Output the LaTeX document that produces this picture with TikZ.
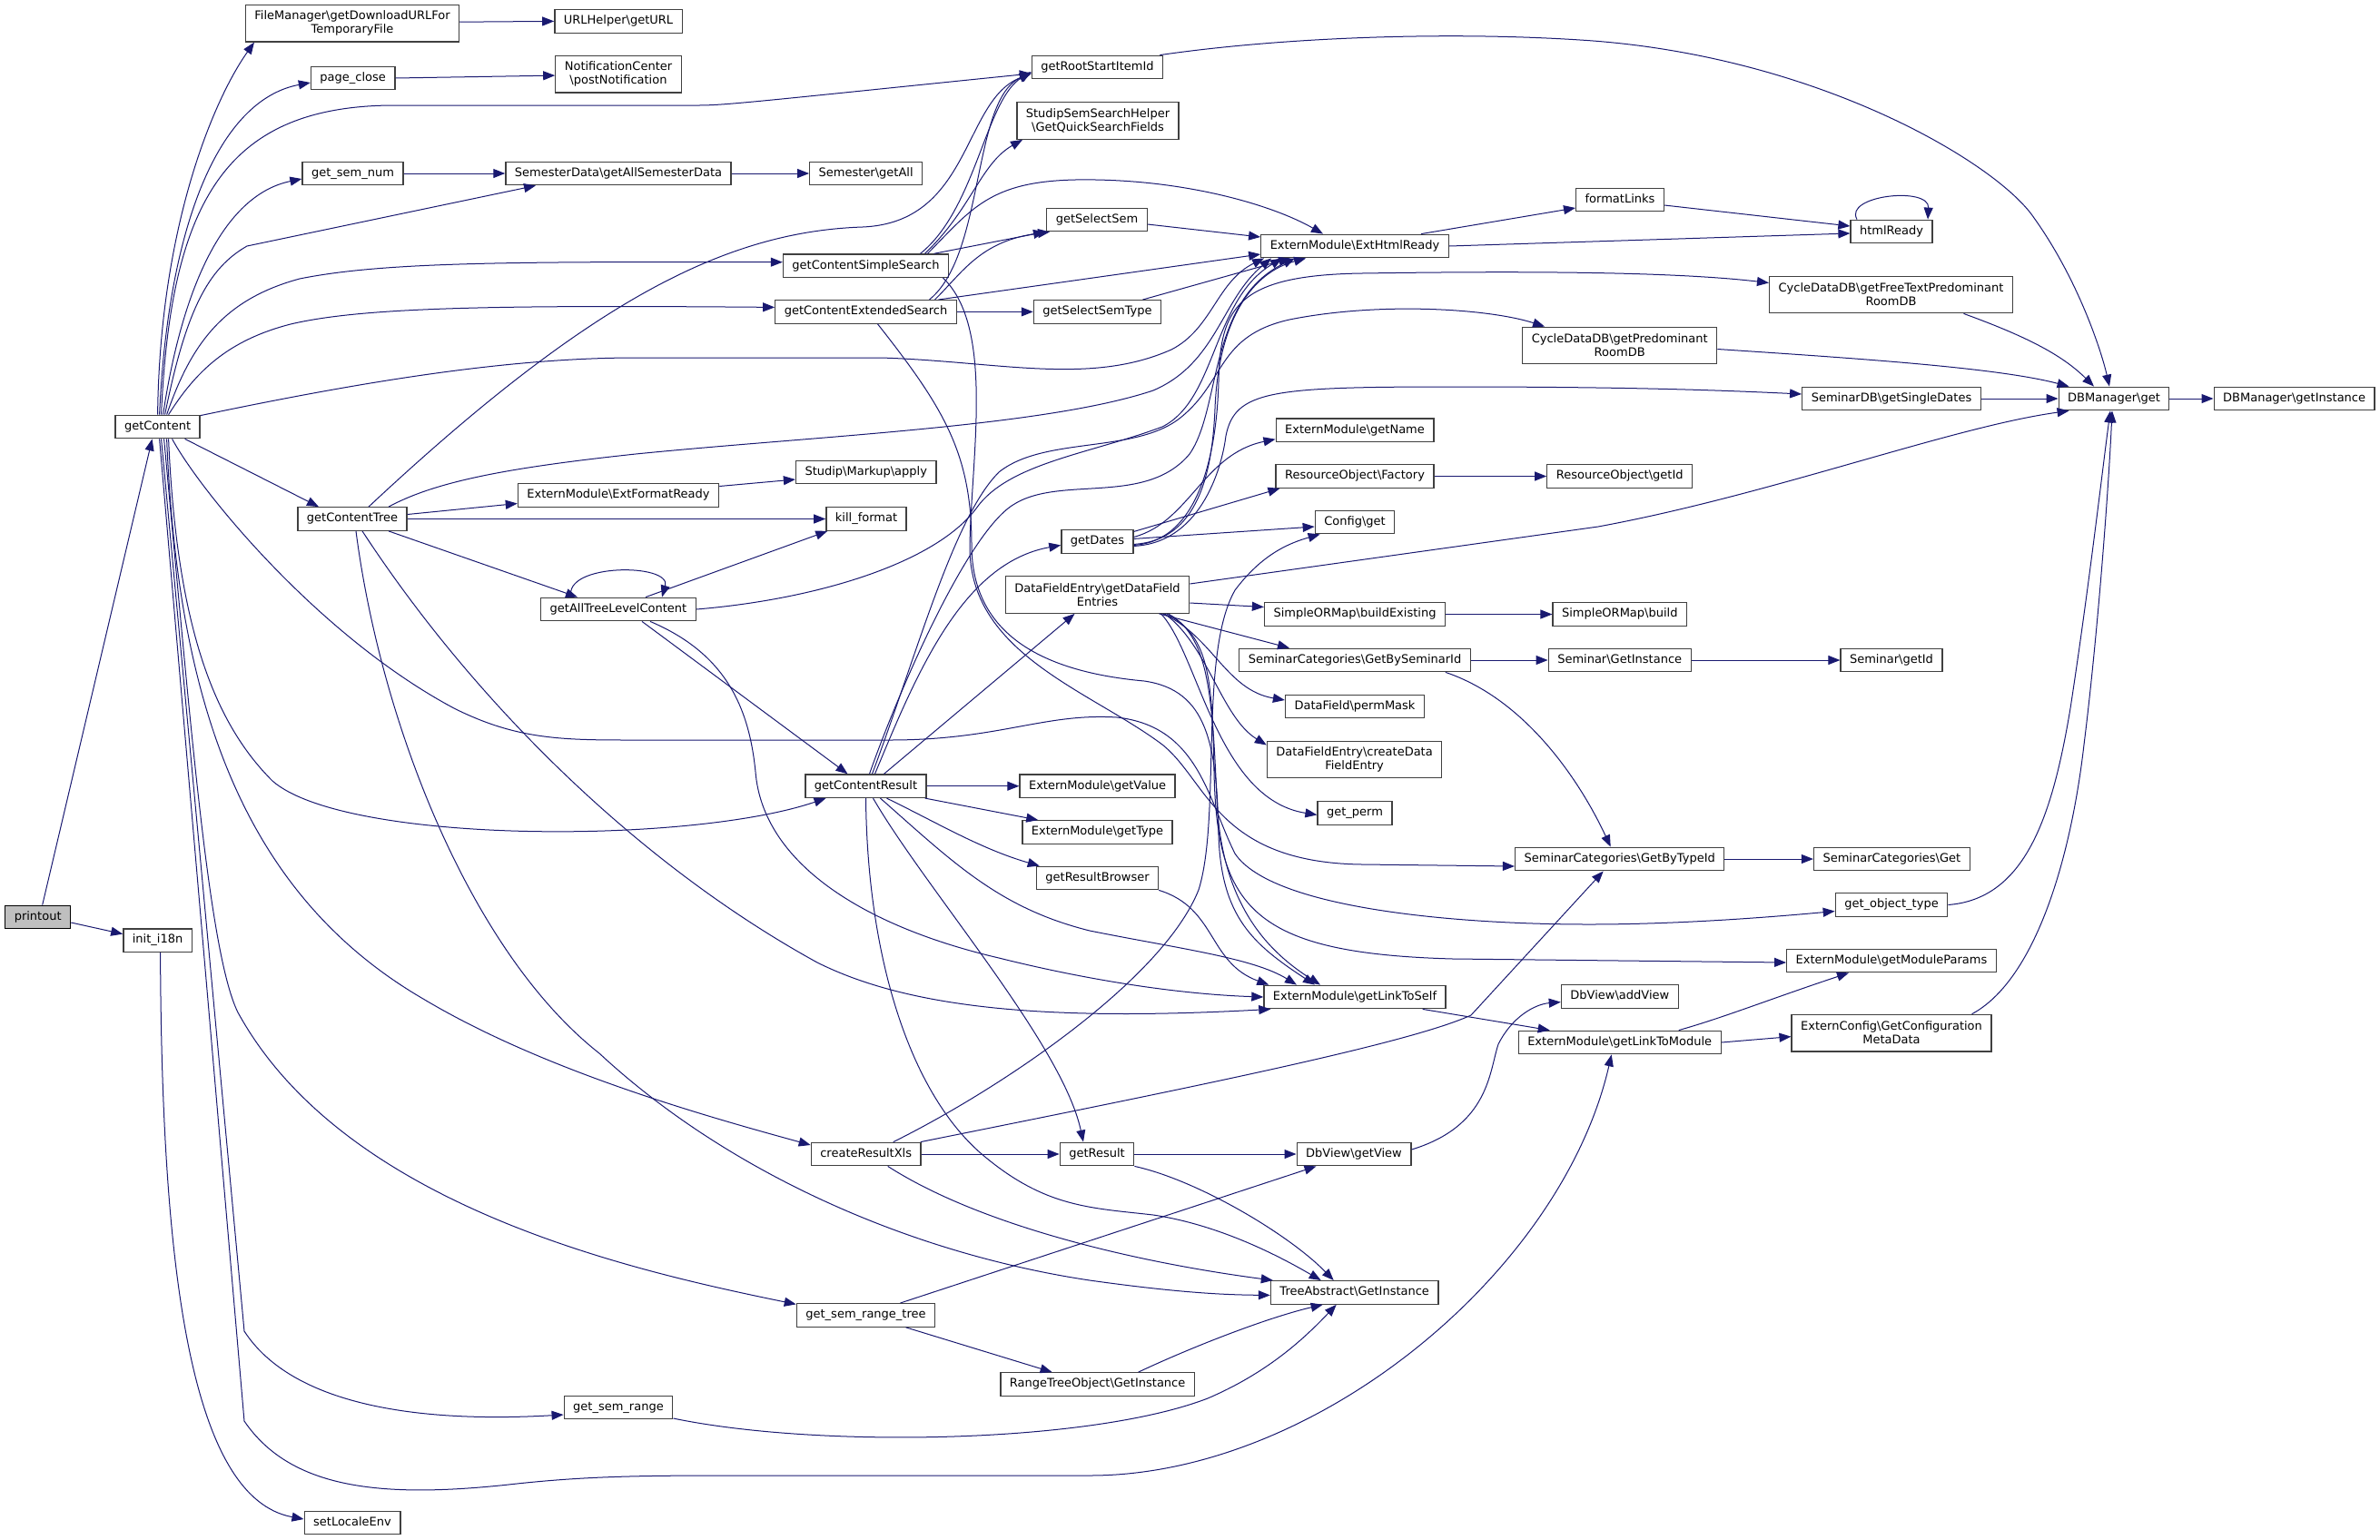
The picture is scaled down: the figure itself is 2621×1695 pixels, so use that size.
\documentclass[tikz,border=0pt]{standalone}
\usepackage{fontspec}
\setmainfont{DejaVu Sans}
\usepackage{tikz}
\usetikzlibrary{arrows.meta}
\definecolor{callblue}{HTML}{191970}
\definecolor{boxgray}{HTML}{404040}
\definecolor{startgray}{HTML}{BFBFBF}
\tikzset{>={Triangle[length=13pt,width=10pt]}}
\tikzset{
	fnbox/.style={draw=boxgray, line width=1.3pt, fill=white, inner xsep=10pt, inner ysep=3pt, minimum height=25.5pt, align=center, font=\fontsize{13}{15}\selectfont, text height=9.6pt, text depth=3pt},
	twoline/.style={minimum height=40.5pt, text height={}, text depth={}},
	startbox/.style={fnbox, fill=startgray, draw=black},
	call/.style={->, draw=callblue, line width=1pt}
}
\newcommand{\ns}{\textbackslash}

\begin{document}
\begin{tikzpicture}[x=1pt,y=-1pt]
			\useasboundingbox (0,0) rectangle (2621,1695);
			\node[startbox] (printout) at (41.7,1010) {printout};
			\node[fnbox] (getContent) at (173.6,470) {getContent};
			\node[fnbox] (initI) at (173.6,1035.6) {init\_i18n};
			\node[fnbox,twoline] (fileMgr) at (388,25.7) {FileManager\ns getDownloadURLFor\\TemporaryFile};
			\node[fnbox] (pageClose) at (388.7,86) {page\_close};
			\node[fnbox] (semNum) at (388.5,191) {get\_sem\_num};
			\node[fnbox] (cTree) at (388,571.5) {getContentTree};
			\node[fnbox] (setLocale) at (388,1677) {setLocaleEnv};
			\node[fnbox] (urlHelper) at (681,23.4) {URLHelper\ns getURL};
			\node[fnbox,twoline] (notify) at (681,81.6) {NotificationCenter\\\ns postNotification};
			\node[fnbox] (semData) at (681,191) {SemesterData\ns getAllSemesterData};
			\node[fnbox] (extFormat) at (681,545.5) {ExternModule\ns ExtFormatReady};
			\node[fnbox] (allTree) at (681,671) {getAllTreeLevelContent};
			\node[fnbox] (semRange) at (681,1550) {get\_sem\_range};
			\node[fnbox] (semGetAll) at (953.7,191) {Semester\ns getAll};
			\node[fnbox] (cSimple) at (953.5,292.7) {getContentSimpleSearch};
			\node[fnbox] (cExtended) at (953.5,343.4) {getContentExtendedSearch};
			\node[fnbox] (markup) at (953.7,520) {Studip\ns Markup\ns apply};
			\node[fnbox] (killFormat) at (954,571.5) {kill\_format};
			\node[fnbox] (cResult) at (953.5,865.7) {getContentResult};
			\node[fnbox] (resultXls) at (953.7,1271) {createResultXls};
			\node[fnbox] (semRangeTree) at (953.5,1448.4) {get\_sem\_range\_tree};
			\node[fnbox] (rootStart) at (1208.5,74) {getRootStartItemId};
			\node[fnbox,twoline] (quickSearch) at (1209,133) {StudipSemSearchHelper\\\ns GetQuickSearchFields};
			\node[fnbox] (selectSem) at (1208,242) {getSelectSem};
			\node[fnbox] (selectSemType) at (1208.5,343.4) {getSelectSemType};
			\node[fnbox] (getDates) at (1208.5,596.4) {getDates};
			\node[fnbox,twoline] (dfEntries) at (1208.5,655) {DataFieldEntry\ns getDataField\\Entries};
			\node[fnbox] (getValue) at (1208.6,865.7) {ExternModule\ns getValue};
			\node[fnbox] (getType) at (1208.5,916.5) {ExternModule\ns getType};
			\node[fnbox] (resultBrowser) at (1208.5,967) {getResultBrowser};
			\node[fnbox] (getResult) at (1208,1271) {getResult};
			\node[fnbox] (rangeTree) at (1208.6,1524.5) {RangeTreeObject\ns GetInstance};
			\node[fnbox] (extHtml) at (1492,271) {ExternModule\ns ExtHtmlReady};
			\node[fnbox] (getName) at (1492,473.7) {ExternModule\ns getName};
			\node[fnbox] (resFactory) at (1492,524.5) {ResourceObject\ns Factory};
			\node[fnbox] (configGet) at (1492,575) {Config\ns get};
			\node[fnbox] (buildExisting) at (1492,676.5) {SimpleORMap\ns buildExisting};
			\node[fnbox] (bySeminar) at (1492,727) {SeminarCategories\ns GetBySeminarId};
			\node[fnbox] (permMask) at (1492,778) {DataField\ns permMask};
			\node[fnbox,twoline] (createDF) at (1491.6,836.5) {DataFieldEntry\ns createData\\FieldEntry};
			\node[fnbox] (getPerm) at (1492,895.4) {get\_perm};
			\node[fnbox] (linkSelf) at (1492,1098) {ExternModule\ns getLinkToSelf};
			\node[fnbox] (getView) at (1491,1271) {DbView\ns getView};
			\node[fnbox] (treeAbs) at (1491.7,1423.4) {TreeAbstract\ns GetInstance};
			\node[fnbox] (formatLinks) at (1784,220) {formatLinks};
			\node[fnbox,twoline] (predRoom) at (1783.7,380.5) {CycleDataDB\ns getPredominant\\RoomDB};
			\node[fnbox] (resGetId) at (1783.7,524.5) {ResourceObject\ns getId};
			\node[fnbox] (ormBuild) at (1783.8,676.5) {SimpleORMap\ns build};
			\node[fnbox] (semInst) at (1783.7,727) {Seminar\ns GetInstance};
			\node[fnbox] (byType) at (1783.7,946) {SeminarCategories\ns GetByTypeId};
			\node[fnbox] (addView) at (1783.8,1097.5) {DbView\ns addView};
			\node[fnbox] (linkModule) at (1783.7,1148) {ExternModule\ns getLinkToModule};
			\node[fnbox] (htmlReady) at (2083,255) {htmlReady};
			\node[fnbox,twoline] (freeText) at (2082.5,324.5) {CycleDataDB\ns getFreeTextPredominant\\RoomDB};
			\node[fnbox] (singleDates) at (2083,439) {SeminarDB\ns getSingleDates};
			\node[fnbox] (semGetId) at (2083,727) {Seminar\ns getId};
			\node[fnbox] (catGet) at (2083.4,946) {SeminarCategories\ns Get};
			\node[fnbox] (objType) at (2083,996.5) {get\_object\_type};
			\node[fnbox] (moduleParams) at (2083,1058) {ExternModule\ns getModuleParams};
			\node[fnbox,twoline] (configMeta) at (2083,1137.6) {ExternConfig\ns GetConfiguration\\MetaData};
			\node[fnbox] (dbGet) at (2328,439) {DBManager\ns get};
			\node[fnbox] (dbInst) at (2526.6,439) {DBManager\ns getInstance};

			\draw[call] ([xshift=5pt]printout.north) -- ([xshift=-6pt]getContent.south);
			\draw[call] ([yshift=-6pt]printout.east) -- ([yshift=7pt]initI.west);
			\draw[call] ([xshift=3pt]initI.south) .. controls (178,1400) and (210,1650) .. ([yshift=4pt]setLocale.west);

			\draw[call] (getContent.north) .. controls (176,250) and (235,110) .. ([xshift=-108pt]fileMgr.south);
			\draw[call] ([xshift=2pt]getContent.north) .. controls (185,250) and (240,110) .. ([yshift=-5pt]pageClose.west);
			\draw[call] ([xshift=4pt]getContent.north) .. controls (188,220) and (250,118) .. (430,116) -- (770,116) .. controls (800,116) and (850,110) .. ([yshift=-7pt]rootStart.west);
			\draw[call] ([xshift=6pt]getContent.north) .. controls (200,320) and (245,215) .. ([yshift=-6pt]semNum.west);
			\draw[call] ([xshift=8pt]getContent.north) .. controls (205,340) and (230,295) .. (272,271) -- ([xshift=-91pt]semData.south);
			\draw[call] ([xshift=10pt]getContent.north) .. controls (210,380) and (245,330) .. (330,307) .. controls (420,289) and (550,288) .. ([yshift=4pt]cSimple.west);
			\draw[call] ([xshift=12pt]getContent.north) .. controls (215,410) and (250,375) .. (320,357) .. controls (400,338) and (550,336) .. ([yshift=5pt]cExtended.west);
			\draw[call] ([yshift=-1pt]getContent.north east) .. controls (400,420) and (560,394) .. (700,394) -- (970,394) .. controls (1100,398) and (1200,425) .. (1290,385) .. controls (1335,362) and (1340,310) .. ([xshift=4pt]extHtml.south west);
			\draw[call] ([xshift=30pt]getContent.south) -- ([xshift=-37pt]cTree.north);
			\draw[call] ([xshift=12pt]getContent.south) .. controls (195,700) and (240,800) .. (300,860) .. controls (380,930) and (760,930) .. ([xshift=-44pt]cResult.south);
			\draw[call] ([xshift=16pt]getContent.south) .. controls (220,540) and (350,700) .. (500,780) .. controls (570,815) and (620,815) .. (700,815) -- (980,815) .. controls (1100,815) and (1150,785) .. (1230,790) .. controls (1320,800) and (1330,880) .. (1360,940) .. controls (1400,1000) and (1600,1018) .. (1750,1018) .. controls (1850,1018) and (1950,1010) .. ([yshift=-7pt]objType.west);
			\draw[call] ([xshift=10pt]getContent.south) .. controls (195,760) and (260,980) .. (466,1100) .. controls (600,1180) and (780,1230) .. ([yshift=10pt]resultXls.west);
			\draw[call] ([xshift=7pt]getContent.south) .. controls (210,800) and (230,1050) .. (262,1115) .. controls (380,1330) and (700,1400) .. ([yshift=12pt]semRangeTree.west);
			\draw[call] ([xshift=4pt]getContent.south) -- (269,1466) .. controls (330,1560) and (500,1565) .. ([yshift=-8pt]semRange.west);
			\draw[call] ([xshift=2pt]getContent.south) -- (269,1565) .. controls (320,1640) and (420,1650) .. (560,1635) .. controls (640,1626) and (700,1625) .. (800,1625) -- (1200,1625) .. controls (1450,1625) and (1720,1400) .. ([xshift=-9pt]linkModule.south);

			\draw[call] ([yshift=1.5pt]fileMgr.east) -- (urlHelper.west);
			\draw[call] (pageClose.east) -- ([yshift=-1.5pt]notify.west);
			\draw[call] (semNum.east) -- (semData.west);
			\draw[call] (semData.east) -- (semGetAll.west);
			\draw[call] ([xshift=-4pt]rootStart.north east) .. controls (1420,40) and (1600,35) .. (1740,44) .. controls (2000,60) and (2200,180) .. (2240,240) .. controls (2290,310) and (2315,390) .. ([xshift=-5pt]dbGet.north);

			\draw[call] ([xshift=60pt]cSimple.north) .. controls (1075,230) and (1085,110) .. ([yshift=-5pt]rootStart.west);
			\draw[call] ([xshift=65pt]cSimple.north) .. controls (1070,230) and (1080,180) .. ([xshift=-83pt]quickSearch.south);
			\draw[call] ([xshift=75pt]cSimple.north) -- ([xshift=-57pt]selectSem.south);
			\draw[call] ([xshift=68pt]cSimple.north) .. controls (1070,230) and (1090,200) .. (1184,198) .. controls (1300,196) and (1400,225) .. ([xshift=-35pt]extHtml.north);
			\draw[call] ([xshift=85pt]cSimple.south) .. controls (1095,360) and (1070,500) .. (1068,600) .. controls (1066,720) and (1200,760) .. (1280,820) .. controls (1330,860) and (1340,950) .. (1500,952) -- ([yshift=-8pt]byType.west);

			\draw[call] ([xshift=70pt]cExtended.north) .. controls (1085,280) and (1070,110) .. ([yshift=-6pt]rootStart.west);
			\draw[call] ([xshift=76pt]cExtended.north) .. controls (1060,300) and (1080,265) .. ([xshift=-52pt]selectSem.south);
			\draw[call] ([xshift=80pt]cExtended.north) -- ([yshift=-9pt]extHtml.west);
			\draw[call] (cExtended.east) -- (selectSemType.west);
			\draw[call] ([xshift=13pt]cExtended.south) .. controls (1040,450) and (1070,500) .. (1070,600) .. controls (1070,700) and (1150,740) .. (1260,750) .. controls (1330,760) and (1340,820) .. (1342,920) .. controls (1345,1010) and (1380,1040) .. ([xshift=-44pt]linkSelf.north);

			\draw[call] ([yshift=-5pt]selectSem.east) -- ([yshift=10pt]extHtml.west);
			\draw[call] ([xshift=50pt]selectSemType.north) -- ([xshift=33pt]extHtml.south west);
			\draw[call] ([xshift=-31pt]extHtml.north east) -- ([yshift=-9pt]formatLinks.west);
			\draw[call] (extHtml.east) -- ([yshift=-2pt]htmlReady.west);
			\draw[call] ([yshift=-6pt]formatLinks.east) -- ([yshift=6pt]htmlReady.west);
			\draw[call] ([xshift=-38pt]htmlReady.north) .. controls (2030,215) and (2125,205) .. ([xshift=40pt]htmlReady.north);

			\draw[call] ([yshift=5pt]cTree.east) -- ([yshift=-9pt]extFormat.west);
			\draw[call] (cTree.east) -- (killFormat.west);
			\draw[call] ([xshift=40pt]cTree.south) -- ([xshift=-45pt]allTree.north);
			\draw[call] ([xshift=18pt]cTree.north) .. controls (650,330) and (800,255) .. (950,250) .. controls (1070,245) and (1060,110) .. ([yshift=-7pt]rootStart.west);
			\draw[call] ([xshift=40pt]cTree.north) .. controls (480,530) and (560,515) .. (700,500) .. controls (900,480) and (1150,470) .. (1270,430) .. controls (1340,400) and (1345,330) .. ([xshift=12pt]extHtml.south west);
			\draw[call] ([xshift=4pt]cTree.south) .. controls (420,800) and (520,1050) .. (660,1160) .. controls (800,1290) and (1000,1380) .. (1200,1410) .. controls (1300,1424) and (1350,1426) .. ([yshift=-3pt]treeAbs.west);
			\draw[call] ([xshift=11pt]cTree.south) .. controls (520,770) and (700,950) .. (900,1060) .. controls (1000,1110) and (1150,1125) .. ([xshift=8pt]linkSelf.south west);
			\draw[call] ([yshift=10pt]extFormat.east) -- ([yshift=-8pt]markup.west);

			\draw[call] ([xshift=-52pt]allTree.north) .. controls (620,620) and (740,620) .. ([xshift=48pt]allTree.north);
			\draw[call] ([xshift=30pt]allTree.north) -- ([xshift=2pt]killFormat.south west);
			\draw[call] (allTree.east) .. controls (900,660) and (1030,620) .. (1075,560) .. controls (1110,510) and (1200,500) .. (1280,470) .. controls (1340,440) and (1335,330) .. ([xshift=24pt]extHtml.south west);
			\draw[call] ([xshift=26pt]allTree.south) -- ([xshift=-20pt]cResult.north);
			\draw[call] ([xshift=35pt]allTree.south) .. controls (800,720) and (825,780) .. (832,850) .. controls (840,950) and (950,1020) .. (1100,1055) .. controls (1200,1080) and (1300,1095) .. (linkSelf.west);

			\draw[call] ([xshift=4pt]cResult.north) .. controls (990,760) and (1060,600) .. (1110,560) .. controls (1160,520) and (1260,560) .. (1310,500) .. controls (1345,450) and (1330,330) .. ([xshift=38pt]extHtml.south west);
			\draw[call] ([xshift=7pt]cResult.north) .. controls (1010,720) and (1050,570) .. (1100,520) .. controls (1150,480) and (1250,500) .. (1300,460) .. controls (1350,420) and (1340,370) .. (1420,352) .. controls (1520,332) and (1640,340) .. ([xshift=25pt]predRoom.north west);
			\draw[call] ([xshift=10pt]cResult.north) .. controls (1010,740) and (1060,620) .. ([yshift=-4pt]getDates.west);
			\draw[call] ([xshift=20pt]cResult.north) -- ([xshift=-25pt]dfEntries.south);
			\draw[call] (cResult.east) -- (getValue.west);
			\draw[call] ([xshift=-2pt]cResult.south east) -- ([xshift=18pt]getType.north west);
			\draw[call] ([xshift=23pt]cResult.south) .. controls (1030,905) and (1080,935) .. ([xshift=4pt]resultBrowser.north west);
			\draw[call] ([xshift=16pt]cResult.south) .. controls (1050,950) and (1100,1000) .. (1200,1025) .. controls (1300,1045) and (1380,1055) .. ([xshift=-64pt]linkSelf.north);
			\draw[call] ([xshift=8pt]cResult.south) .. controls (1020,980) and (1170,1150) .. ([xshift=-15pt]getResult.north);
			\draw[call] (cResult.south) .. controls (955,1050) and (1000,1200) .. (1080,1270) .. controls (1150,1330) and (1200,1330) .. (1270,1338) .. controls (1350,1350) and (1420,1390) .. ([xshift=-37pt]treeAbs.north);
			\draw[call] (resultBrowser.south east) .. controls (1340,1000) and (1330,1060) .. ([xshift=6pt]linkSelf.north west);

			\draw[call] ([yshift=-3pt]getDates.east) .. controls (1320,595) and (1335,520) .. (1338,450) .. controls (1342,350) and (1380,300) .. ([xshift=50pt]extHtml.south west);
			\draw[call] ([yshift=-4pt]getDates.east) .. controls (1320,596) and (1340,500) .. (1342,420) .. controls (1344,340) and (1360,303) .. (1500,301) .. controls (1700,298) and (1850,300) .. ([yshift=13pt]freeText.west);
			\draw[call] ([yshift=-5pt]getDates.east) .. controls (1320,598) and (1345,520) .. (1350,480) .. controls (1360,430) and (1400,426) .. (1600,426) .. controls (1800,426) and (1900,430) .. ([yshift=5pt]singleDates.west);
			\draw[call] ([yshift=5pt]getDates.east) .. controls (1310,575) and (1325,500) .. ([yshift=-10pt]getName.west);
			\draw[call] ([yshift=11pt]getDates.east) -- ([xshift=5pt]resFactory.south west);
			\draw[call] ([yshift=3pt]getDates.east) -- ([yshift=-5pt]configGet.west);

			\draw[call] ([yshift=12pt]dfEntries.east) -- (1760,580) .. controls (1950,545) and (2150,470) .. ([xshift=12pt]dbGet.south west);
			\draw[call] ([yshift=-9pt]dfEntries.east) -- ([yshift=8pt]buildExisting.west);
			\draw[call] ([xshift=68pt]dfEntries.south) -- ([xshift=-72pt]bySeminar.north);
			\draw[call] ([xshift=72pt]dfEntries.south) .. controls (1335,700) and (1350,760) .. ([yshift=7pt]permMask.west);
			\draw[call] ([xshift=74pt]dfEntries.south) .. controls (1330,710) and (1345,790) .. ([yshift=16pt]createDF.west);
			\draw[call] ([xshift=70pt]dfEntries.south) .. controls (1320,720) and (1340,880) .. ([yshift=-2pt]getPerm.west);
			\draw[call] ([xshift=76pt]dfEntries.south) .. controls (1330,700) and (1335,740) .. (1337,850) .. controls (1340,1000) and (1380,1050) .. (1600,1056) -- ([yshift=-2pt]moduleParams.west);
			\draw[call] ([xshift=78pt]dfEntries.south) .. controls (1330,700) and (1335,760) .. (1340,880) .. controls (1345,1000) and (1400,1050) .. ([xshift=-38pt]linkSelf.north);

			\draw[call] (buildExisting.east) -- (ormBuild.west);
			\draw[call] (bySeminar.east) -- (semInst.west);
			\draw[call] ([xshift=-28pt]bySeminar.south east) .. controls (1680,770) and (1740,860) .. ([xshift=-10pt]byType.north);
			\draw[call] (semInst.east) -- (semGetId.west);
			\draw[call] (byType.east) -- (catGet.west);
			\draw[call] (resFactory.east) -- (resGetId.west);

			\draw[call] ([xshift=80pt]freeText.south) .. controls (2230,370) and (2270,390) .. ([xshift=-22pt]dbGet.north);
			\draw[call] ([yshift=-4pt]predRoom.east) .. controls (2050,395) and (2200,405) .. ([xshift=12pt]dbGet.north west);
			\draw[call] (singleDates.east) -- (dbGet.west);
			\draw[call] (dbGet.east) -- (dbInst.west);
			\draw[call] (objType.east) .. controls (2230,990) and (2260,900) .. (2280,780) .. controls (2300,650) and (2315,520) .. ([xshift=-4pt]dbGet.south);
			\draw[call] ([xshift=-22pt]configMeta.north east) .. controls (2240,1080) and (2280,950) .. (2295,820) .. controls (2310,700) and (2322,540) .. ([xshift=-2pt]dbGet.south);

			\draw[call] ([xshift=-26pt]linkSelf.south east) -- ([xshift=-77pt]linkModule.north);
			\draw[call] ([xshift=65pt]linkModule.north) .. controls (1900,1120) and (1950,1100) .. ([xshift=-47pt]moduleParams.south);
			\draw[call] (linkModule.east) -- ([yshift=-4pt]configMeta.west);

			\draw[call] ([xshift=30pt]resultXls.north) .. controls (1100,1200) and (1280,1080) .. (1320,980) .. controls (1345,900) and (1320,720) .. (1360,650) .. controls (1390,610) and (1420,598) .. ([xshift=6pt]configGet.south west);
			\draw[call] ([xshift=-1pt]resultXls.north east) .. controls (1300,1200) and (1550,1150) .. (1620,1118) -- ([xshift=-18pt]byType.south);
			\draw[call] (resultXls.east) -- (getResult.west);
			\draw[call] ([xshift=24pt]resultXls.south) .. controls (1080,1350) and (1250,1390) .. ([xshift=3pt]treeAbs.north west);

			\draw[call] (getResult.east) -- (getView.west);
			\draw[call] (getResult.south east) .. controls (1320,1300) and (1420,1360) .. ([xshift=-23pt]treeAbs.north);
			\draw[call] ([yshift=5pt]getView.east) .. controls (1640,1240) and (1640,1180) .. (1650,1150) .. controls (1665,1120) and (1690,1106) .. ([yshift=-6pt]addView.west);
			\draw[call] ([xshift=38pt]semRangeTree.north) -- ([xshift=22pt]getView.south west);
			\draw[call] ([xshift=44pt]semRangeTree.south) -- ([xshift=-50pt]rangeTree.north);
			\draw[call] ([xshift=45pt]rangeTree.north) .. controls (1320,1480) and (1400,1450) .. ([xshift=-35pt]treeAbs.south);
			\draw[call] ([yshift=-12pt]semRange.east) .. controls (900,1595) and (1200,1590) .. (1330,1540) .. controls (1400,1510) and (1440,1470) .. ([xshift=-20pt]treeAbs.south);
\end{tikzpicture}
\end{document}
